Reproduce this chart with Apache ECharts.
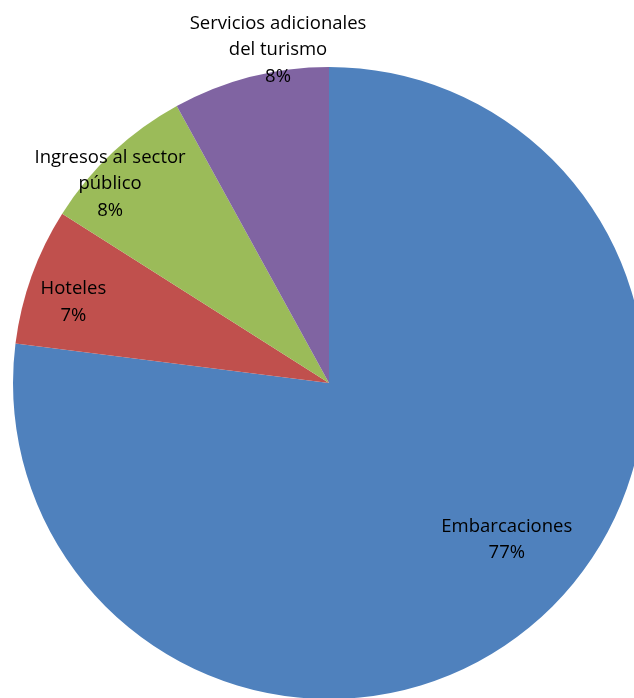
<!DOCTYPE html>
<html>
<head>
<meta charset="utf-8">
<script src="https://cdn.jsdelivr.net/npm/echarts@6/dist/echarts.min.js"></script>
<style>
html,body{margin:0;padding:0;background:#fff;}
#chart{width:634px;height:698px;}
</style>
</head>
<body>
<div id="chart"></div>
<script>
// Data
var categories = ['Embarcaciones', 'Hoteles', 'Ingresos al sector\npúblico', 'Servicios adicionales\ndel turismo'];
var values = [77, 7, 8, 8];
var colors = ['#4F81BD', '#C0504D', '#9BBB59', '#8064A2'];

// Label placement (layout only): polar angle (deg, clockwise from top) and distance from centre
var LABEL_ANGLE = [131.4, 287.5, 312.3, 351.3];
var LABEL_DIST = [237, 268, 296, 337];

var CX = 329, CY = 383, R = 316;

var chart = echarts.init(document.getElementById('chart'), null, {renderer: 'canvas'});
chart.setOption({
  animation: false,
  backgroundColor: '#ffffff',
  series: [{
    type: 'pie',
    center: [CX, CY],
    radius: [0, R],
    startAngle: 90,
    clockwise: true,
    avoidLabelOverlap: false,
    itemStyle: {borderWidth: 0},
    label: {
      show: true,
      position: 'inside',
      formatter: '{b}\n{d}%',
      color: '#000',
      fontFamily: 'Open Sans',
      fontWeight: 500,
      fontSize: 18.5,
      lineHeight: 26.5,
      align: 'center'
    },
    labelLine: {show: false},
    labelLayout: function (p) {
      var i = p.dataIndex;
      var a = LABEL_ANGLE[i] * Math.PI / 180;
      return {
        x: CX + Math.sin(a) * LABEL_DIST[i],
        y: CY - Math.cos(a) * LABEL_DIST[i],
        align: 'center',
        verticalAlign: 'middle'
      };
    },
    data: categories.map(function (c, i) {
      return {name: c, value: values[i], itemStyle: {color: colors[i]}};
    })
  }]
});
</script>
</body>
</html>
